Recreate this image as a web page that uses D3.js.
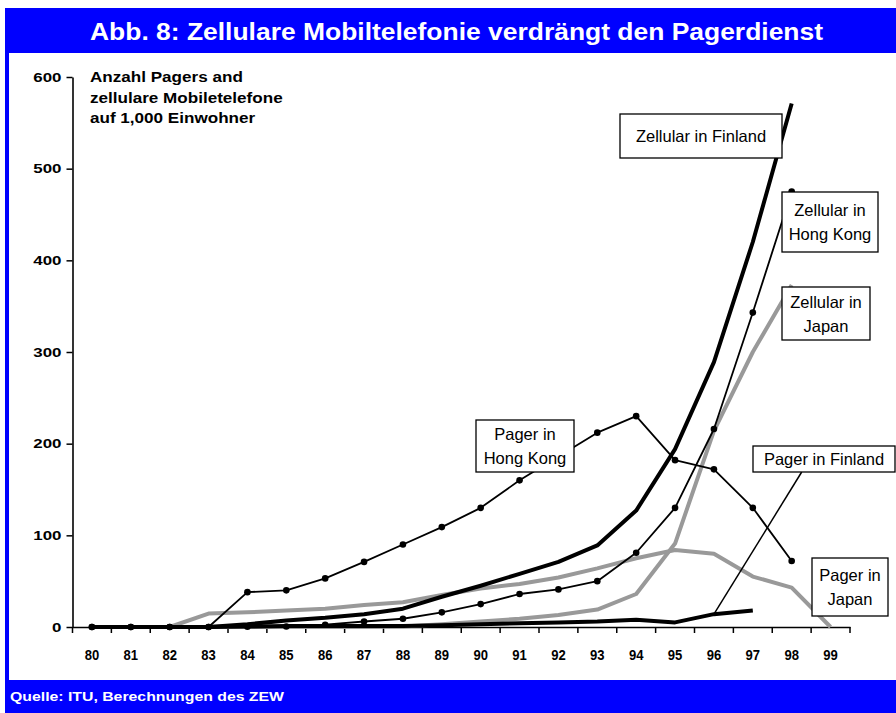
<!DOCTYPE html>
<html><head><meta charset="utf-8">
<script src="https://cdn.jsdelivr.net/npm/d3@7/dist/d3.min.js"></script>
<style>
html,body{margin:0;padding:0;background:#fff;}
svg{display:block;font-family:"Liberation Sans",Arial,sans-serif;}
</style></head>
<body>
<svg id="c" width="896" height="713"></svg>
<script>
const years = ['80','81','82','83','84','85','86','87','88','89','90','91','92','93','94','95','96','97','98','99'];
const yTicks = [0,100,200,300,400,500,600];
const pagerHK = [0,0,0,0,38,40,53,71,90,109,130,160,186,212,230,182,172,130,72,null];
const cellHK  = [0,0,0,0,0.3,0.5,2.5,6,9,16,25,36,41,50,81,130,216,343,475,null];
const cellFI  = [0,0,0,0,3,7,10,14,20,33,45,58,71,89,127,194,289,420,571,null];
const pagerFI = [0,0,0,0,0.5,1,1,1,1,2,3,4,5,6,8,5,14,18,null,null];
const pagerJP = [0,0,0,14.6,16,18,20,24,27,35,42,47,54,64,75,84,80,55,43,0];
const cellJP  = [0,0,0,0,0,0,0,0,0.5,3,6,9,13,19,36,91,214,300,373,null];
const title = "Abb. 8: Zellulare Mobiltelefonie verdrängt den Pagerdienst";
const yTitle = ["Anzahl Pagers and","zellulare Mobiletelefone","auf 1,000 Einwohner"];
const source = "Quelle: ITU, Berechnungen des ZEW";

const series = [
  {name:["Pager in","Japan"], values:pagerJP, color:"#999999", width:4, dots:false},
  {name:["Zellular in","Japan"], values:cellJP, color:"#999999", width:4, dots:false},
  {name:["Pager in Finland"], values:pagerFI, color:"#000", width:4, dots:false},
  {name:["Zellular in Finland"], values:cellFI, color:"#000", width:4, dots:false},
  {name:["Pager in","Hong Kong"], values:pagerHK, color:"#000", width:1.8, dots:true},
  {name:["Zellular in","Hong Kong"], values:cellHK, color:"#000", width:1.8, dots:true}
];

const svg = d3.select('#c');
const blue = "#0000ff";

// frame
svg.append('rect').attr('x',5).attr('y',8).attr('width',891).attr('height',45).attr('fill',blue);
svg.append('rect').attr('x',5).attr('y',52).attr('width',4).attr('height',630).attr('fill',blue);
svg.append('rect').attr('x',5).attr('y',680).attr('width',891).attr('height',33).attr('fill',blue);

function fitText(sel, len){ sel.attr('textLength',len).attr('lengthAdjust','spacingAndGlyphs'); }

const tt = svg.append('text').attr('x',90).attr('y',40).attr('fill','#fff')
  .attr('font-size',23.5).attr('font-weight','bold').text(title);
fitText(tt, 733);

const st = svg.append('text').attr('x',10).attr('y',701).attr('fill','#fff')
  .attr('font-size',12.5).attr('font-weight','bold').text(source);
fitText(st, 274);

const x = d3.scaleBand().domain(years).range([72.5,850]);
const y = d3.scaleLinear().domain([0,600]).range([627,77]);

// y axis
const ya = svg.append('g').attr('transform','translate(72.5,0)')
  .call(d3.axisLeft(y).tickValues(yTicks).tickSize(6).tickPadding(5).tickSizeOuter(0));
ya.select('.domain').attr('stroke','#000').attr('stroke-width',1.6);
ya.selectAll('.tick line').attr('stroke-width',1.5);
ya.selectAll('.tick text').attr('font-size',13).attr('font-weight','bold')
  .attr('font-family','"Liberation Sans",Arial,sans-serif').attr('fill','#000')
  .each(function(){ const l=this.getComputedTextLength(); d3.select(this).attr('textLength',l*1.3).attr('lengthAdjust','spacingAndGlyphs'); });

// x axis
const xa = svg.append('g').attr('transform','translate(0,627)')
  .call(d3.axisBottom(x).tickSize(0).tickPadding(23).tickSizeOuter(0));
xa.select('.domain').attr('stroke','#000').attr('stroke-width',1.6);
xa.selectAll('.tick text').attr('font-size',14.5).attr('font-weight','bold')
  .attr('font-family','"Liberation Sans",Arial,sans-serif').attr('fill','#000')
  .each(function(){ const l=this.getComputedTextLength(); d3.select(this).attr('textLength',l*0.9).attr('lengthAdjust','spacingAndGlyphs'); });
const bounds = years.map(d=>x(d)).concat([x(years[years.length-1])+x.bandwidth()]);
svg.append('g').selectAll('line').data(bounds).join('line')
  .attr('x1',d=>d).attr('x2',d=>d).attr('y1',627).attr('y2',633)
  .attr('stroke','#000').attr('stroke-width',1.5);

// y title
yTitle.forEach((t,i)=>{
  const e = svg.append('text').attr('x',90).attr('y',82+i*20.5).attr('font-size',14)
    .attr('font-weight','bold').attr('fill','#000').text(t);
  const l = e.node().getComputedTextLength();
  e.attr('textLength',l*1.22).attr('lengthAdjust','spacingAndGlyphs');
});

// lines
const line = d3.line().defined(d=>d.v!==null)
  .x(d=>x(d.k)+x.bandwidth()/2).y(d=>y(d.v));
series.forEach(s=>{
  const pts = years.map((k,i)=>({k, v:s.values[i]}));
  svg.append('path').datum(pts).attr('d',line).attr('fill','none')
    .attr('stroke',s.color).attr('stroke-width',s.width).attr('stroke-linejoin','round');
  if(s.dots){
    svg.append('g').selectAll('circle').data(pts.filter(d=>d.v!==null)).join('circle')
      .attr('cx',d=>x(d.k)+x.bandwidth()/2).attr('cy',d=>y(d.v)).attr('r',3.3).attr('fill','#000');
  }
});

// label boxes
const boxes = [
  {lines:["Zellular in Finland"], x:620, y:114, w:162, h:44},
  {lines:["Zellular in","Hong Kong"], x:782, y:192, w:96, h:60},
  {lines:["Zellular in","Japan"], x:782, y:287, w:88, h:53},
  {lines:["Pager in","Hong Kong"], x:476, y:420, w:98, h:52},
  {lines:["Pager in Finland"], x:753, y:446, w:142, h:26},
  {lines:["Pager in","Japan"], x:812, y:558, w:76, h:58}
];
// leader line for Pager in Finland
svg.append('line').attr('x1',801.7).attr('y1',472)
  .attr('x2',x('96')+x.bandwidth()/2).attr('y2',y(pagerFI[16]))
  .attr('stroke','#000').attr('stroke-width',1.5);
boxes.forEach(b=>{
  svg.append('rect').attr('x',b.x).attr('y',b.y).attr('width',b.w).attr('height',b.h)
    .attr('fill','#fff').attr('stroke','#000').attr('stroke-width',1.3);
  const n=b.lines.length, lh=24;
  b.lines.forEach((t,i)=>{
    const cy = b.y + b.h/2 + (i-(n-1)/2)*lh;
    svg.append('text').attr('x',b.x+b.w/2).attr('y',cy+6).attr('text-anchor','middle')
      .attr('font-size',16.5).attr('fill','#000').text(t);
  });
});
</script>
</body></html>
